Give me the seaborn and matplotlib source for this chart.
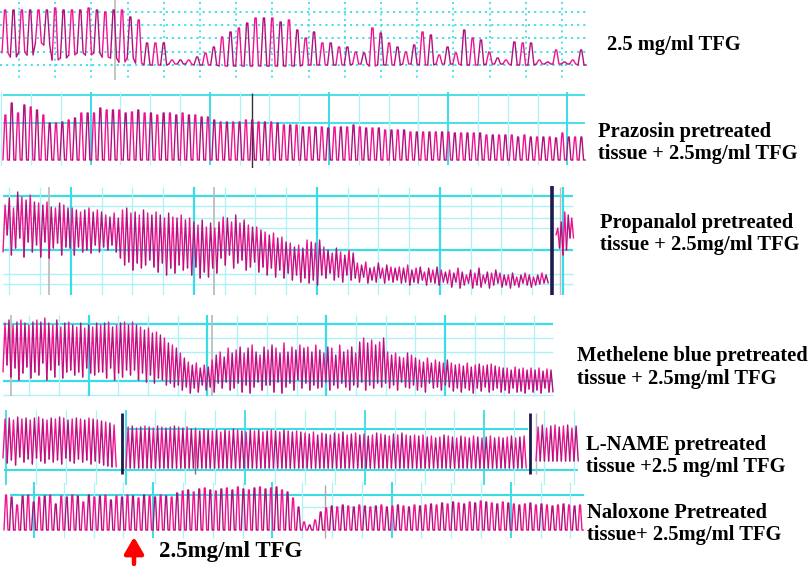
import numpy as np
import pandas as pd
import matplotlib
matplotlib.use("Agg")
import matplotlib.pyplot as plt
import seaborn as sns

sns.set_theme(style="white")
plt.rcParams["font.family"] = ["Liberation Serif", "DejaVu Serif"]

W, H = 809, 566

# ------------------------------------------------------------------
# DATA: per-contraction peak and trough tension (arbitrary units)
# ------------------------------------------------------------------
# Trace 1: 2.5 mg/ml TFG
t1_peaks = [70, 70, 70, 70, 70, 70, 72, 70, 70, 70, 72, 70, 68, 70, 70, 63, 60,
            37, 37, 37, 20, 20, 20, 23, 27, 33, 43, 48, 52, 57, 62, 62, 62, 58, 60,
            50, 42, 48, 37, 37, 33, 33, 28, 27, 52, 47, 37, 33, 28, 35, 48, 45, 25,
            33, 27, 50, 42, 40, 28, 22, 20, 38, 37, 37, 20, 18, 30, 18, 20, 30]
t1_troughs = [27, 23, 28, 25, 37, 35, 20, 22, 25, 27, 25, 27, 23, 22, 18, 22, 17,
              15, 15, 15, 16, 16, 16, 15, 15, 15, 14, 14, 14, 14, 14, 14, 14, 14, 14,
              14, 15, 15, 15, 15, 15, 15, 16, 16, 14, 15, 15, 15, 16, 16, 15, 15, 16,
              16, 16, 15, 15, 15, 16, 16, 16, 15, 15, 15, 16, 16, 16, 16, 16, 15]

# Trace 2: Prazosin pretreated tissue + 2.5mg/ml TFG
t2_peaks = [53, 65, 55, 63, 61, 58, 53, 45, 45, 46, 48, 50, 55, 55, 55, 60, 58, 58,
            58, 55, 56, 58, 55, 55, 53, 55, 55, 53, 55, 53, 53, 51, 51, 48, 46, 46,
            46, 46, 48, 48, 46, 46, 46, 45, 43, 43, 43, 41, 41, 41, 41, 40, 41, 41,
            41, 43, 41, 40, 40, 40, 38, 38, 38, 38, 36, 36, 36, 36, 36, 36, 36, 35,
            35, 35, 35, 35, 33, 33, 33, 33, 33, 31, 33, 31, 31, 31, 31, 30, 35, 31,
            31, 31]
t2_trough = 8

# Trace 3: Propanalol pretreated tissue + 2.5mg/ml TFG
t3_peaks = [90, 97, 87, 103, 98, 95, 100, 93, 92, 90, 93, 88, 87, 92, 90, 87,
            87, 85, 83, 85, 87, 83, 85, 83, 80, 78, 82, 77, 85, 87, 82, 83, 80, 85,
            82, 80, 83, 80, 77, 82, 78, 77, 80, 75, 77, 73, 70, 75, 68, 72, 67, 73,
            78, 77, 73, 80, 72, 75, 70, 68, 68, 65, 63, 60, 62, 57, 58, 53, 52, 48,
            50, 47, 55, 53, 52, 55, 48, 45, 42, 47, 43, 40, 45, 42, 32, 30, 33, 27,
            28, 32, 27, 30, 28, 27, 28, 27, 30, 25, 27, 28, 23, 27, 25, 28, 25, 23,
            25, 22, 27, 23, 20, 25, 22, 27, 20, 23, 22, 25, 22, 20, 20, 22, 18, 20,
            22, 20, 18, 20, 22, 20]
t3_troughs = [43, 60, 40, 47, 57, 38, 53, 43, 50, 38, 53, 37, 47, 52, 40, 48,
              47, 40, 48, 43, 45, 42, 50, 43, 48, 45, 50, 43, 37, 30, 33, 25, 32, 27,
              30, 35, 28, 23, 32, 20, 27, 22, 30, 25, 27, 20, 28, 17, 23, 18, 27, 22,
              37, 30, 40, 27, 32, 35, 25, 28, 33, 23, 28, 20, 27, 18, 25, 17, 22, 15,
              20, 13, 17, 12, 15, 10, 20, 17, 22, 15, 18, 13, 20, 15, 17, 13, 18, 12,
              15, 13, 17, 12, 15, 13, 15, 12, 13, 10, 13, 12, 15, 10, 13, 12, 10, 13,
              12, 8, 13, 7, 10, 12, 7, 10, 8, 12, 7, 10, 12, 8, 10, 7, 10, 8,
              12, 10, 8, 10, 11, 12]
t3b_peaks = [67, 73, 83, 80, 77]
t3b_troughs = [60, 47, 40, 45, 57]

# Trace 4: Methelene blue pretreated tissue + 2.5mg/ml TFG
t4_peaks = [77, 80, 75, 78, 80, 77, 75, 78, 80, 78, 82, 77, 75, 80, 73, 77, 78,
            75, 73, 77, 72, 75, 73, 77, 75, 77, 78, 73, 75, 77, 78, 75, 78, 75, 73,
            70, 72, 67, 68, 65, 62, 57, 55, 52, 47, 42, 38, 35, 37, 32, 35, 33, 40,
            45, 48, 43, 52, 47, 50, 53, 47, 52, 55, 48, 45, 53, 50, 55, 52, 47, 57,
            48, 53, 50, 55, 52, 53, 48, 55, 50, 47, 53, 52, 45, 55, 48, 50, 53, 47,
            58, 62, 57, 60, 55, 58, 62, 48, 45, 47, 43, 42, 47, 45, 42, 40, 38, 42,
            37, 40, 38, 37, 40, 37, 35, 36, 34, 37, 33, 35, 36, 34, 35, 36, 34, 33,
            32, 32, 30, 33, 31, 32, 30, 32, 30, 32, 29, 31, 30]
t4_troughs = [28, 35, 23, 32, 20, 27, 33, 22, 28, 25, 37, 20, 30, 23, 35, 22, 28,
              30, 25, 28, 23, 32, 27, 25, 28, 28, 22, 32, 20, 27, 23, 30, 25, 30, 20,
              27, 18, 25, 17, 22, 20, 15, 17, 13, 15, 10, 13, 7, 12, 8, 15, 10, 13,
              8, 17, 12, 18, 10, 12, 17, 8, 15, 7, 13, 18, 10, 15, 15, 8, 18, 7,
              13, 17, 10, 20, 12, 17, 10, 15, 12, 13, 18, 10, 15, 12, 17, 13, 10, 15,
              13, 18, 10, 15, 12, 17, 13, 17, 12, 15, 10, 18, 13, 12, 15, 10, 13, 8,
              17, 12, 13, 10, 15, 13, 9, 12, 8, 12, 10, 7, 12, 9, 13, 8, 10, 12,
              8, 10, 7, 12, 8, 9, 7, 11, 8, 10, 7, 12, 8]

# Trace 5: L-NAME pretreated tissue + 2.5 mg/ml TFG (three recording segments)
t5a_peaks = [66, 67, 65, 68, 66, 67, 65, 67, 68, 66, 65, 67, 66, 68, 67, 65, 66,
             67, 66, 65, 67, 66, 65, 64, 63, 62, 60]
t5a_troughs = [27, 22, 25, 20, 28, 23, 26, 21, 27, 24, 22, 26, 23, 25, 21, 27, 24,
               22, 26, 23, 25, 21, 24, 22, 20, 19, 18]
t5b_peaks = [58, 59, 57, 58, 59, 58, 57, 59, 58, 57, 58, 59, 58, 57, 58, 56,
             55, 54, 56, 55, 54, 55, 53, 55, 54, 56, 55, 54, 53, 55, 54, 55, 53, 54,
             55, 54, 53, 55, 54, 53, 54, 53,
             52, 51, 53, 50, 52, 51, 50, 52, 51, 53, 50, 51, 52, 50, 51, 49, 50, 52,
             51, 50, 49, 51, 50, 52, 50, 49, 50,
             49, 50, 48, 49, 47, 48, 50, 49, 48, 47, 49, 48, 47, 49, 48, 47, 48, 49,
             47, 48, 47, 48, 49, 47, 48, 49]
t5b_trough = 17
t5c_peaks = [58, 60, 57, 59, 60, 58, 59, 60, 57, 59]
t5c_trough = 24

# Trace 6: Naloxone pretreated tissue + 2.5 mg/ml TFG
t6_peaks = [45, 43, 35, 44, 45, 38, 43, 44, 45, 36, 44, 43, 45, 44, 38, 45, 43,
            44, 45, 40, 44, 43, 45, 44, 42, 45, 44, 43, 45, 44, 43,
            47, 49, 50, 48, 51, 52, 50, 49, 51, 52, 50, 53, 51, 50, 52, 53, 51, 52,
            53, 50, 48, 42, 33,
            18, 15, 20, 28,
            32, 34, 33, 35, 34, 33, 35, 34, 33, 34, 35, 33, 34, 35, 34, 33, 35, 34,
            35, 36, 35, 37, 36, 38, 37, 36, 38, 37, 39, 38, 37, 36, 38, 37, 36, 35,
            36, 37, 35, 36, 35, 34, 35, 36, 35, 34, 35]
t6_trough = 10

# ------------------------------------------------------------------
TONES = {0: "#F2128F", 1: "#B0117C"}
GRID_THICK = "#3ADDE7"
GRID_THIN = "#AEF2F5"

fig = plt.figure(figsize=(W / 100, H / 100), dpi=100)
fig.patch.set_facecolor("white")


def band_axes(top, bottom):
    ax = fig.add_axes([0, 1 - bottom / H, 1, (bottom - top) / H])
    ax.set_xlim(0, W)
    ax.set_ylim(0, bottom - top)
    ax.axis("off")
    ax.patch.set_alpha(0)
    ax._bottom = bottom
    return ax


def hline(ax, y, x0, x1, **kw):
    h = ax._bottom - y
    ax.plot([x0, x1], [h, h], zorder=1, solid_capstyle="butt", **kw)


def vline(ax, x, y0, y1, **kw):
    ax.plot([x, x], [ax._bottom - y0, ax._bottom - y1], zorder=1,
            solid_capstyle="butt", **kw)


def beats_frame(peaks, troughs, x0, x1, shape, seg):
    n = len(peaks)
    t = np.linspace(x0, x1, n)
    step = (x1 - x0) / (n - 1)
    tr = np.broadcast_to(np.asarray(troughs, dtype=float), (n,))
    if shape == "spike":
        tmpl = [(0.0, 0), (0.3, 1), (0.45, 1), (0.72, 0)]
    else:
        tmpl = [(0.0, 0), (0.5, 1)]
    rows = []
    for i in range(n):
        unit = f"{seg}-{i}"
        tone = i % 2
        for off, kind in tmpl:
            rows.append((t[i] + off * step, peaks[i] if kind else tr[i], unit, tone))
        nxt = tr[i + 1] if i + 1 < n else tr[i]
        rows.append((t[i] + step, nxt, unit, tone))
    return pd.DataFrame(rows, columns=["x", "y", "unit", "tone"])


def draw_trace(ax, frames, lw=1.0):
    df = pd.concat(frames, ignore_index=True)
    sns.lineplot(data=df, x="x", y="y", units="unit", hue="tone", palette=TONES,
                 estimator=None, sort=False, lw=lw, ax=ax, legend=False, zorder=3)
    ax.set_xlim(0, W)
    ax.axis("off")


# ---------------- Trace 1 ----------------
ax1 = band_axes(0, 80)
for y in [11.7, 25, 38.3, 51.7, 65]:
    hline(ax1, y, 0, 588, color=GRID_THICK, lw=1.3, ls=(0, (1.2, 2.2)))
for k in range(16):
    vline(ax1, 19 + 36.2 * k, 2, 80, color=GRID_THICK, lw=1.2, ls=(0, (1.2, 2.2)))
vline(ax1, 115, 0, 80, color="#BBBBBB", lw=1.2)
draw_trace(ax1, [beats_frame(t1_peaks, t1_troughs, 2, 578, "spike", 0)])

# ---------------- Trace 2 ----------------
ax2 = band_axes(88, 168)
for y in [95, 123.3]:
    hline(ax2, y, 3, 585, color=GRID_THICK, lw=1.3)
for k in range(20):
    x = 1.3 + 29.8 * k
    thick = (k % 4 == 3)
    vline(ax2, x, 92, 165, color=GRID_THICK if thick else GRID_THIN,
          lw=1.4 if thick else 0.9)
vline(ax2, 252, 93, 168, color="#333333", lw=1.0)
draw_trace(ax2, [beats_frame(t2_peaks, t2_trough, 3, 579, "spike", 0)])

# ---------------- Trace 3 ----------------
ax3 = band_axes(185, 295)
for y, thick in [(195.5, True), (205.5, False), (217.7, False), (228.3, False),
                 (250, True), (274.3, False), (284, False)]:
    hline(ax3, y, 3, 573, color=GRID_THICK if thick else GRID_THIN,
          lw=1.6 if thick else 1.0)
for k in range(19):
    x = 9.5 + 30.75 * k
    thick = (k % 4 == 2)
    vline(ax3, x, 187, 295, color=GRID_THICK if thick else GRID_THIN,
          lw=1.6 if thick else 0.9)
for x in [49.5, 214]:
    vline(ax3, x, 187, 295, color="#BDBDBD", lw=1.3)
vline(ax3, 560, 187, 295, color="#BDBDBD", lw=1.0)
draw_trace(ax3, [beats_frame(t3_peaks, t3_troughs, 3, 544, "zig", 0),
                 beats_frame(t3b_peaks, t3b_troughs, 556, 570, "zig", 1)])
vline(ax3, 552, 186, 295, color="#1B1B4D", lw=2.6)

# ---------------- Trace 4 ----------------
ax4 = band_axes(305, 400)
for y, thick in [(323.5, True), (337.7, False), (351.5, False), (381, True),
                 (394.5, False)]:
    hline(ax4, y, 3, 553, color=GRID_THICK if thick else GRID_THIN,
          lw=1.6 if thick else 1.0)
for k in range(18):
    x = 29.3 + 29.7 * k
    thick = (k % 4 == 2)
    vline(ax4, x, 315, 396, color=GRID_THICK if thick else GRID_THIN,
          lw=1.6 if thick else 0.9)
for x in [10.7, 212.3]:
    vline(ax4, x, 315, 396, color="#BDBDBD", lw=1.3)
draw_trace(ax4, [beats_frame(t4_peaks, t4_troughs, 3, 549, "zig", 0)])

# ---------------- Trace 5 ----------------
ax5 = band_axes(405, 485)
hline(ax5, 429, 126, 528, color=GRID_THICK, lw=1.5)
hline(ax5, 470, 4, 578, color=GRID_THICK, lw=1.5)
for k in range(20):
    x = 6 + 29.9 * k
    thick = (k % 4 == 0)
    vline(ax5, x, 410, 485, color=GRID_THICK if thick else GRID_THIN,
          lw=1.3 if thick else 0.9)
draw_trace(ax5, [beats_frame(t5a_peaks, t5a_troughs, 3, 112, "zig", 0),
                 beats_frame(t5b_peaks, t5b_trough, 126, 522, "zig", 1),
                 beats_frame(t5c_peaks, t5c_trough, 536, 574, "zig", 2)])
for x in [122.5, 530]:
    vline(ax5, x, 413, 474, color="#1B1B4D", lw=2.0)
vline(ax5, 195, 427, 474, color="#777777", lw=1.0)
vline(ax5, 535.8, 413, 474, color="#BDBDBD", lw=1.0)

# ---------------- Trace 6 ----------------
ax6 = band_axes(475, 540)
hline(ax6, 495, 10, 584, color=GRID_THICK, lw=1.5)
hline(ax6, 506.7, 302, 383, color=GRID_THIN, lw=1.0)
for k in range(1, 20):
    x = 4.3 + 29.8 * k
    thick = (k % 4 == 1)
    vline(ax6, x, 482, 538, color=GRID_THICK if thick else GRID_THIN,
          lw=1.4 if thick else 0.9)
vline(ax6, 325, 485, 538, color="#AAAAAA", lw=1.0)
draw_trace(ax6, [beats_frame(t6_peaks, t6_trough, 4, 578, "spike", 0)])

# ---------------- Labels ----------------
label_lines = [
    ("2.5 mg/ml TFG", 607, 45),
    ("Prazosin pretreated", 598, 131.5),
    ("tissue + 2.5mg/ml TFG", 598, 154.3),
    ("Propanalol pretreated", 600, 222.7),
    ("tissue + 2.5mg/ml TFG", 600, 245),
    ("Methelene blue pretreated", 577, 356),
    ("tissue + 2.5mg/ml TFG", 577, 379.3),
    ("L-NAME pretreated", 586, 445),
    ("tissue +2.5 mg/ml TFG", 586, 466.7),
    ("Naloxone Pretreated", 587, 512.7),
    ("tissue+ 2.5mg/ml TFG", 587, 535),
]
for txt, x, y in label_lines:
    fig.text(x / W, 1 - y / H, txt, fontsize=14.8, fontweight="bold",
             color="black", ha="left", va="center")
fig.text(159 / W, 1 - 551 / H, "2.5mg/ml TFG", fontsize=16.5, fontweight="bold",
         color="black", ha="left", va="center")

over = fig.add_axes([0, 0, 1, 1])
over.set_xlim(0, W)
over.set_ylim(H, 0)
over.axis("off")
over.patch.set_alpha(0)
over.annotate("", xy=(134, 537), xytext=(134, 564),
              arrowprops=dict(arrowstyle="-|>,head_width=0.32,head_length=0.55",
                              color="#FF0000", lw=3.2, mutation_scale=18,
                              shrinkA=0, shrinkB=0))

fig.savefig("out.png", dpi=100, facecolor="white")
